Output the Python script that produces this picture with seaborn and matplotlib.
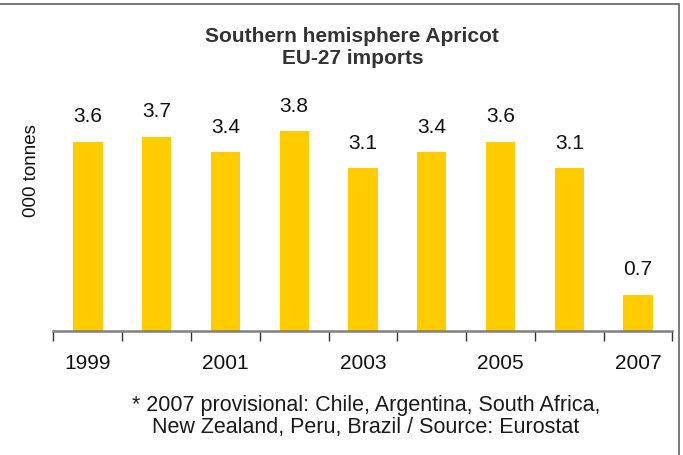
import matplotlib
matplotlib.use("Agg")
import matplotlib.pyplot as plt
import seaborn as sns
import pandas as pd
from matplotlib.lines import Line2D

years = ["1999", "2000", "2001", "2002", "2003", "2004", "2005", "2006", "2007"]
values = [3.6, 3.7, 3.4, 3.8, 3.1, 3.4, 3.6, 3.1, 0.7]
shown_year_labels = ["1999", "", "2001", "", "2003", "", "2005", "", "2007"]

sns.set_style("white")
plt.rcParams["font.family"] = ["Liberation Sans", "DejaVu Sans"]

df = pd.DataFrame({"year": years, "value": values})

fig = plt.figure(figsize=(6.83, 4.55), dpi=100)
ax = fig.add_axes([0.0783, 0.2715, 0.9063, 0.5209])
sns.barplot(data=df, x="year", y="value", color="#FFCC00", width=0.427,
            saturation=1, ax=ax, edgecolor="none")

ax.set_ylim(0, 4.5)
ax.set_xlim(-0.5, len(years) - 0.5)
for i, v in enumerate(values):
    ax.text(i, v + 0.37, f"{v:.1f}", ha="center", va="baseline", fontsize=15, color="#111111")

for s in ["top", "right", "left"]:
    ax.spines[s].set_visible(False)
ax.spines["bottom"].set_color("#808080")
ax.spines["bottom"].set_linewidth(1.8)
ax.set_yticks([])
ax.set_xticks([i - 0.5 for i in range(len(years) + 1)], minor=False)
ax.set_xticklabels([])
ax.tick_params(axis="x", which="major", direction="out", length=7, width=1, color="#333333", bottom=True)
ax.set_xticks(range(len(years)), minor=True)
ax.set_xticklabels(shown_year_labels, minor=True, fontsize=15, color="#111111")
ax.tick_params(axis="x", which="minor", length=0, pad=16)
ax.set_xlabel("")
ax.set_ylabel("000 tonnes", fontsize=13.5, color="#111111")
ax.yaxis.set_label_coords(-0.022, 0.678)

fig.text(0.516, 0.895, "Southern hemisphere Apricot\nEU-27 imports", ha="center", va="center",
         fontsize=15, fontweight="bold", color="#333333", linespacing=1.2)
fig.text(0.536, 0.085, "* 2007 provisional: Chile, Argentina, South Africa,\nNew Zealand, Peru, Brazil / Source: Eurostat",
         ha="center", va="center", fontsize=15.5, color="#1a1a1a", linespacing=1.1)

# frame lines (top and right only, as in the reference)
fig.add_artist(Line2D([0.0, 0.994], [0.991, 0.991], transform=fig.transFigure, color="#6e6e6e", linewidth=1.3))
fig.add_artist(Line2D([0.994, 0.994], [0.991, 0.0], transform=fig.transFigure, color="#6e6e6e", linewidth=1.3))

fig.savefig("out.png", dpi=100)
